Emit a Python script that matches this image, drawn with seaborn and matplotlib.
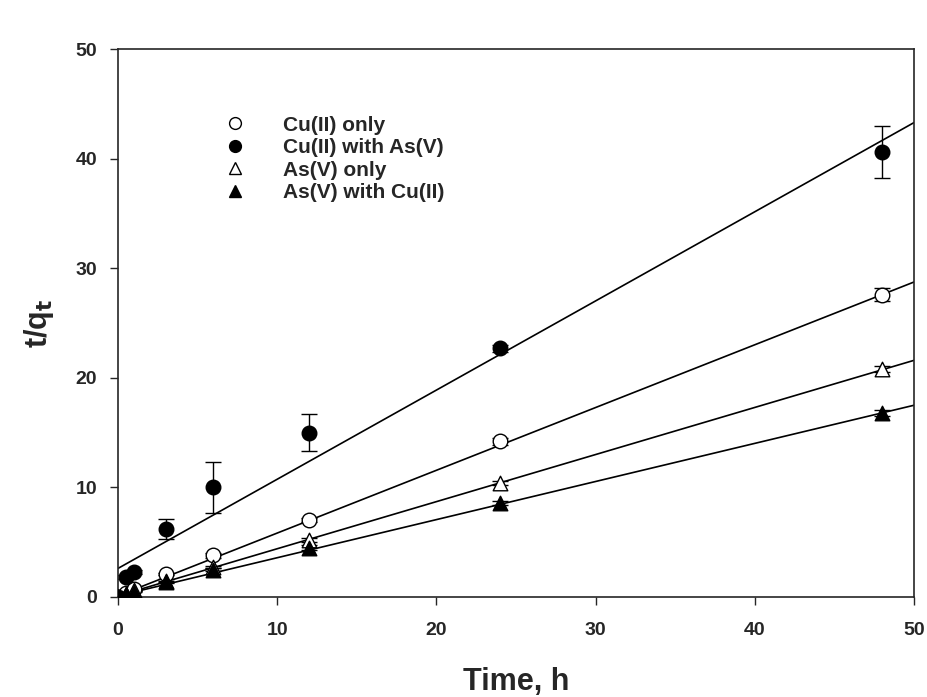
import numpy as np
import pandas as pd
import matplotlib.pyplot as plt
import seaborn as sns
from matplotlib.lines import Line2D

time = [0, 0.5, 1, 3, 6, 12, 24, 48]

cu_only = [0.0, 0.4, 0.7, 2.1, 3.8, 7.0, 14.2, 27.6]
cu_only_err = [0.0, 0.05, 0.05, 0.1, 0.2, 0.2, 0.3, 0.6]
cu_as = [0.0, 1.8, 2.3, 6.2, 10.0, 15.0, 22.7, 40.6]
cu_as_err = [0.0, 0.2, 0.2, 0.9, 2.3, 1.7, 0.3, 2.4]
as_only = [0.0, 0.3, 0.6, 1.5, 2.7, 5.2, 10.4, 20.8]
as_only_err = [0.0, 0.05, 0.05, 0.1, 0.1, 0.2, 0.2, 0.3]
as_cu = [0.0, 0.3, 0.5, 1.4, 2.5, 4.5, 8.6, 16.8]
as_cu_err = [0.0, 0.05, 0.05, 0.1, 0.1, 0.2, 0.2, 0.3]

series = ['Cu(II) only', 'Cu(II) with As(V)', 'As(V) only', 'As(V) with Cu(II)']
slopes = [0.573, 0.814, 0.430, 0.348]
intercepts = [0.1, 2.6, 0.1, 0.1]

sns.set_style('ticks')
plt.rcParams['font.family'] = ['Liberation Sans', 'DejaVu Sans']
plt.rcParams['font.weight'] = 'bold'
plt.rcParams['mathtext.default'] = 'bf'

fig = plt.figure(figsize=(9.28, 6.97), dpi=100)
ax = fig.add_axes([0.127, 0.1435, 0.858, 0.786])

# fitted lines
xfit = np.array([0, 50])
for s, b in zip(slopes, intercepts):
    sns.lineplot(x=xfit, y=s * xfit + b, color='black', linewidth=1.2, ax=ax)

styles = {
    'Cu(II) only': ('o', 'white'),
    'Cu(II) with As(V)': ('o', 'black'),
    'As(V) only': ('^', 'white'),
    'As(V) with Cu(II)': ('^', 'black'),
}
ys = [cu_only, cu_as, as_only, as_cu]
errs = [cu_only_err, cu_as_err, as_only_err, as_cu_err]

handles = []
for name, y, e in zip(series, ys, errs):
    m, fc = styles[name]
    ax.errorbar(time, y, yerr=e, fmt='none', ecolor='black', elinewidth=1,
                capsize=6, capthick=1, zorder=3)
    df = pd.DataFrame({'t': time, 'v': y})
    sns.scatterplot(data=df, x='t', y='v', marker=m, s=110, color=fc,
                    edgecolor='black', linewidth=1, zorder=4, ax=ax)
    handles.append(Line2D([], [], linestyle='none', marker=m, markersize=8.5,
                          markerfacecolor=fc, markeredgecolor='black', label=name))

ax.legend(handles=handles, loc='upper left', bbox_to_anchor=(0.097, 0.913),
          frameon=False, handletextpad=1.3, labelspacing=0.17,
          prop={'weight': 'bold', 'size': 15})

ax.set_xlim(0, 50)
ax.set_ylim(0, 50)
ax.set_xticks(range(0, 51, 10))
ax.set_yticks(range(0, 51, 10))
ax.tick_params(direction='out', length=6, width=1, labelsize=14)
ax.tick_params(axis='x', pad=12)
ax.tick_params(axis='y', pad=9)
for lab in ax.get_xticklabels() + ax.get_yticklabels():
    lab.set_fontweight('bold')
for sp in ax.spines.values():
    sp.set_visible(True)
    sp.set_linewidth(1.2)

ax.set_xlabel('Time, h', fontsize=22, fontweight='bold', labelpad=20)
ax.set_ylabel('t/q$_\\mathbf{t}$', fontsize=22, fontweight='bold', labelpad=14)

fig.savefig('out.png', dpi=100)
